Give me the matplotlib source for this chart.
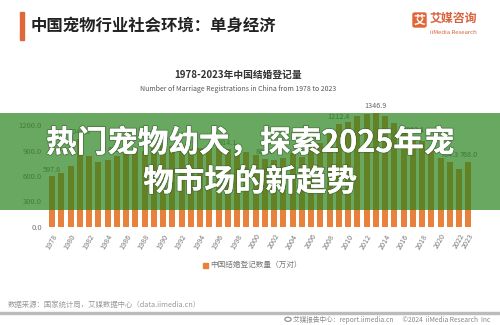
import matplotlib
matplotlib.use("Agg")
import matplotlib.pyplot as plt
from matplotlib.patches import Rectangle, FancyBboxPatch, Circle
import matplotlib.patheffects as pe

plt.rcParams['font.family'] = ['Noto Sans CJK SC', 'DejaVu Sans']

years = list(range(1978, 2024))
marriages = [597.8, 637.1, 720.9, 1040.3, 836.8, 763.9, 782.9, 831.3, 884.1, 926.2,
             899.2, 937.2, 951.1, 953.2, 951.9, 912.4, 929.0, 934.1, 938.7, 914.1,
             891.7, 885.3, 848.5, 805.0, 786.0, 811.4, 867.2, 823.1, 945.0, 991.4,
             1098.3, 1212.4, 1241.0, 1302.4, 1323.6, 1346.9, 1306.7, 1224.7, 1142.8, 1063.1,
             1013.9, 927.3, 814.3, 764.3, 683.5, 768.0]
labeled_years = [1978, 1981, 1985, 1997, 2001, 2009, 2013, 2017, 2021, 2023]
tick_years = list(range(1978, 2023, 2)) + [2023]
yticks = [0, 300, 600, 900, 1200]

page_title = "中国宠物行业社会环境：单身经济"
chart_title = "1978-2023年中国结婚登记量"
chart_subtitle = "Number of Marriage Registrations in China from 1978 to 2023"
legend_label = "中国结婚登记数量（万对）"
banner_lines = ["热门宠物幼犬，探索2025年宠", "物市场的新趋势"]
source_text = "数据来源：国家统计局，艾媒数据中心（data.iimedia.cn）"
footer_text = "艾媒报告中心：report.iimedia.cn      ©2024  iiMedia Research  Inc"

W, H = 500, 325
fig = plt.figure(figsize=(W / 100, H / 100), dpi=100)
fig.patch.set_facecolor('white')

def fx(px):
    return px / W

def fy(py):
    return 1 - py / H

ORANGE = '#E8813B'
GRAY = '#777777'

# axes: x centers 52..468.5, 0 at y=227, 1400 at y=108
ax = fig.add_axes([fx(47.4), fy(227), fx(473.1) - fx(47.4), fy(108) - fy(227)])
xs = list(range(len(years)))
ax.bar(xs, marriages, width=0.65, color=ORANGE, zorder=2)
ax.set_xlim(-0.5, len(years) - 0.5)
ax.set_ylim(0, 1400)
ax.set_yticks(yticks)
ax.set_yticklabels([f"{v:.1f}" for v in yticks], fontsize=5.5, color=GRAY)
ax.set_xticks([years.index(y) for y in tick_years])
ax.set_xticklabels([str(y) for y in tick_years], rotation=60, fontsize=5.2,
                   color=GRAY, ha='right', rotation_mode='anchor')
ax.tick_params(length=0, pad=4)
for s in ax.spines.values():
    s.set_visible(False)
ax.set_facecolor('none')
for y in labeled_years:
    i = years.index(y)
    ax.text(i, marriages[i] + 30, f"{marriages[i]:.1f}", ha='center', va='bottom',
            fontsize=5.2, color='#666666')

# legend
fig.patches.append(Rectangle((fx(202.5), fy(267.5)), fx(5), 5 / H, transform=fig.transFigure,
                             color=ORANGE))
fig.text(fx(210), fy(265), legend_label, fontsize=5.5, color=GRAY, va='center', ha='left')

# chart titles
fig.text(fx(238), fy(75), chart_title, fontsize=7, fontweight='bold', color='#333333',
         ha='center', va='center')
fig.text(fx(238), fy(89), chart_subtitle, fontsize=5, color='#555555',
         ha='center', va='center')

# page header
fig.patches.append(Rectangle((fx(20), fy(40)), fx(4), 28 / H, transform=fig.transFigure,
                             color='#E0673A'))
fig.text(fx(31), fy(25.5), page_title, fontsize=11.8, fontweight='bold', color='#222222',
         ha='left', va='center')

# logo
fig.patches.append(FancyBboxPatch((fx(413), fy(27)), fx(13), 14 / H, transform=fig.transFigure,
                                  boxstyle='round,pad=0,rounding_size=0.004', color='#E0673A'))
fig.text(fx(419.5), fy(20), "艾", fontsize=8.5, fontweight='bold', color='white',
         ha='center', va='center')
fig.text(fx(430), fy(18.5), "艾媒咨询", fontsize=8.6, fontweight='bold', color='#D9603B',
         ha='left', va='center')
fig.text(fx(430), fy(32.5), "iiMedia Research", fontsize=4.3, color='#D9603B',
         ha='left', va='center')

# footer
fig.text(fx(8), fy(305), source_text, fontsize=5.3, color='#999999', ha='left', va='center')
fig.patches.append(Rectangle((0, fy(314)), 1, 2 / H, transform=fig.transFigure, color='#BBBBBB'))
fig.text(fx(490), fy(319.5), footer_text, fontsize=4.8, color='#888888', ha='right', va='center')
fig.patches.append(Circle((fx(288), fy(319.3)), 3.2 / W, transform=fig.transFigure,
                          facecolor='none', edgecolor='#888888', linewidth=0.8))

# banner overlay
fig.patches.append(Rectangle((0, fy(210)), 1, 97 / H, transform=fig.transFigure,
                             facecolor=(42 / 255, 131 / 255, 28 / 255), alpha=0.7,
                             edgecolor='none', zorder=5))
effects = [pe.withStroke(linewidth=1.6, foreground='#3c5a30', alpha=0.5), pe.Normal()]
fig.text(fx(250), fy(143), banner_lines[0], fontsize=22, fontweight=900, color='white',
         ha='center', va='center', zorder=6, path_effects=effects)
fig.text(fx(250), fy(182), banner_lines[1], fontsize=22, fontweight=900, color='white',
         ha='center', va='center', zorder=6, path_effects=effects)

fig.savefig("out.png", dpi=100)
